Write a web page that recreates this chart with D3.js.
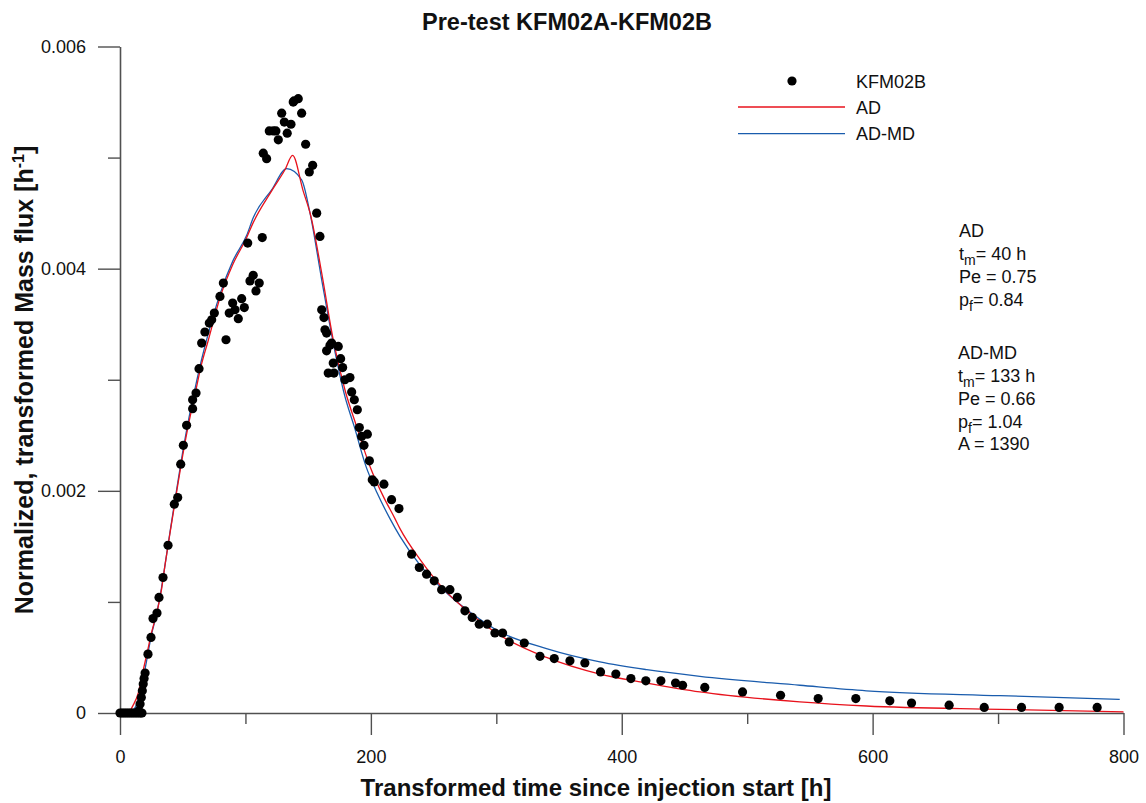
<!DOCTYPE html>
<html><head><meta charset="utf-8">
<script src="https://cdn.jsdelivr.net/npm/d3@7"></script>
<style>body{margin:0;background:#fff} text{font-family:"Liberation Sans",Arial,sans-serif;fill:#111}</style>
</head><body><svg id="c" width="1146" height="803"></svg>
<script>
// ---- data ----
const obsTime = [0,1.5,3,4.5,6,7.5,9,10.5,12,13.5,15,16.5,17.5,
 15,16,17,17.8,18.5,19.2,20,
 22.3,24.7,26.3,29.5,31.1,34.3,38.3,43.3,46,48.4,50.5,53.1,57.9,57.9,60.6,63,65.1,67.7,71.2,73.1,75.2,79.7,82.4,84.5,87.1,89.8,91.7,94.3,97,99.1,
 101.8,103.6,106.2,108.4,111,113.4,114.2,116.9,119,122.2,124.3,126.2,128.9,131,133.3,136.3,138.1,138.7,142.1,144.8,148,150.9,153.6,156.8,159.4,
 160.8,162.6,163.4,164.7,164.7,166,167.4,168.7,170,170.6,174,175.9,177.5,179.3,183.3,184.7,186.8,189.2,190.8,192.6,194.5,197.2,198.8,
 201.1,202.7,210.4,216.5,222.4,232.5,238.6,244.4,250.5,256.4,263,268.9,275,280.8,286.4,292.8,298.9,305,310.3,322.3,334.8,346.2,358.7,370.6,383.1,395.3,
 407.3,419.2,431.2,442.9,448.5,466.2,496.3,526.6,556.6,586.6,613.7,631,661,689,718.7,748.7,779];
const obsFlux = [0,0,0,0,0,0,0,0,0,0,0,0,0,
 0.00002,0.00008,0.00014,0.0002,0.00026,0.00031,0.00036,
 0.00053,0.00068,0.00085,0.0009,0.00104,0.00122,0.00151,0.00188,0.00194,0.00224,0.00241,0.00259,0.00274,0.00282,0.00288,0.0031,0.00333,0.00343,0.00351,0.00354,0.0036,0.00375,0.00387,0.00336,0.0036,0.00369,0.00363,0.00355,0.00373,0.00365,
 0.00423,0.00389,0.00394,0.0038,0.00387,0.00428,0.00504,0.00499,0.00524,0.00524,0.00524,0.00516,0.0054,0.00532,0.00522,0.0053,0.0055,0.00551,0.00553,0.0054,0.00512,0.00487,0.00493,0.0045,0.00429,
 0.00363,0.00356,0.00345,0.00342,0.00326,0.00306,0.00331,0.00333,0.00315,0.00306,0.0033,0.00319,0.00311,0.003,0.00302,0.00289,0.00282,0.00273,0.00257,0.00249,0.00241,0.00251,0.00227,
 0.0021,0.00208,0.00206,0.00192,0.00184,0.00143,0.00131,0.00125,0.00119,0.00111,0.00111,0.00104,0.00092,0.00086,0.0008,0.0008,0.00072,0.00072,0.00064,0.00063,0.00051,0.00049,0.00047,0.00045,0.00037,0.00035,
 0.00031,0.00029,0.00029,0.00027,0.00025,0.00023,0.00019,0.00016,0.00013,0.00013,0.00011,0.00009,0.00007,0.00005,0.00005,0.00005,0.00005];

const adTime = [0,4,8,10,14.6,18,21.2,25.3,29.3,33.2,36,40,45,50,55,60,65,70,80,90,101,106,120.9,131.5,137.6,146,152,160.8,170,179.3,188.6,199.3,209.9,219.2,223.2,240,257.7,280,302.9,340,382.6,420,462.3,542,595,701.5,800];
const adFlux = [0,0,0.00002,0.00006,0.00018,0.00036,0.00052,0.00073,0.0009,0.00112,0.00134,0.00163,0.00198,0.00232,0.00262,0.00288,0.00314,0.00334,0.00375,0.00404,0.00428,0.00441,0.0047,0.00489,0.00502,0.0047,0.00448,0.00396,0.00336,0.00291,0.00258,0.00222,0.00195,0.00175,0.00166,0.00137,0.00112,0.00089,0.0007,0.0005,0.00035,0.00027,0.00019,0.0001,0.000063,0.000033,0.00001];

const admdTime = [0,6,10,14,18,21.2,25,29.3,33,36,40,45,50,55,60,65,70,80,90,101,106.3,120.9,132.9,144.8,151.5,160.8,170,179.3,186.7,196.1,205,215.2,223.2,240,257.7,280,302.9,340,382.6,420,462.3,542,595,701.5,797];
const admdFlux = [0,0,0.00002,0.0001,0.00028,0.00047,0.0007,0.0009,0.00112,0.00134,0.00164,0.002,0.00235,0.00266,0.00293,0.00318,0.0034,0.00378,0.00407,0.0043,0.00446,0.00471,0.0049,0.0048,0.0045,0.0039,0.00333,0.00285,0.00258,0.00222,0.00198,0.00175,0.00159,0.00132,0.00111,0.0009,0.00073,0.00058,0.00046,0.00039,0.00033,0.00025,0.0002,0.000156,0.000123];

const xMajorTicks = [0,200,400,600,800];
const xMinorTicks = [100,300,500,700];
const yMajorTicks = [0,0.002,0.004,0.006];
const yMinorTicks = [0.001,0.003,0.005];

const seriesNames = ["KFM02B","AD","AD-MD"];
const seriesColors = ["#000000","#e8121c","#1a5cad"];

// ---- drawing ----
const svg = d3.select("#c");
const x = d3.scaleLinear().domain([0,800]).range([120,1123.5]);
const y = d3.scaleLinear().domain([0,0.006]).range([713,46.5]);
const axisColor = "#505050";

function styleAxis(g){
  g.select(".domain").attr("stroke",axisColor).attr("stroke-width",1.6);
  g.selectAll(".tick line").attr("stroke",axisColor).attr("stroke-width",1.4);
  g.selectAll(".tick text").attr("font-size",18).attr("fill","#111")
    .attr("font-family","'Liberation Sans',Arial,sans-serif");
}
// x axis
const gx = svg.append("g").attr("transform","translate(0,713)")
  .call(d3.axisBottom(x).tickValues(xMajorTicks).tickSize(22).tickSizeOuter(0).tickPadding(15).tickFormat(d3.format("d")));
styleAxis(gx);
const gx2 = svg.append("g").attr("transform","translate(0,713)")
  .call(d3.axisBottom(x).tickValues(xMinorTicks).tickSize(11).tickSizeOuter(0).tickFormat(""));
styleAxis(gx2); gx2.select(".domain").remove();
// y axis
const gy = svg.append("g").attr("transform","translate(120,0)")
  .call(d3.axisLeft(y).tickValues(yMajorTicks).tickSize(22).tickSizeOuter(0).tickPadding(12)
    .tickFormat(d => d===0 ? "0" : d3.format(".3f")(d)));
styleAxis(gy);
const gy2 = svg.append("g").attr("transform","translate(120,0)")
  .call(d3.axisLeft(y).tickValues(yMinorTicks).tickSize(12).tickSizeOuter(0).tickFormat(""));
styleAxis(gy2); gy2.select(".domain").remove();

// curves
const line = d3.line().x(d=>x(d[0])).y(d=>y(d[1])).curve(d3.curveMonotoneX);
svg.append("path").datum(d3.zip(admdTime,admdFlux)).attr("d",line)
  .attr("fill","none").attr("stroke",seriesColors[2]).attr("stroke-width",1.3);
svg.append("path").datum(d3.zip(adTime,adFlux)).attr("d",line)
  .attr("fill","none").attr("stroke",seriesColors[1]).attr("stroke-width",1.3);

// observations
svg.append("g").selectAll("circle").data(d3.zip(obsTime,obsFlux)).join("circle")
  .attr("cx",d=>x(d[0])).attr("cy",d=>y(d[1])).attr("r",4.6).attr("fill","#000");

// title & axis labels
svg.append("text").attr("x",567).attr("y",30).attr("text-anchor","middle")
  .attr("font-size",23.5).attr("font-weight","bold").text("Pre-test KFM02A-KFM02B");
svg.append("text").attr("x",596).attr("y",796).attr("text-anchor","middle")
  .attr("font-size",24).attr("font-weight","bold").text("Transformed time since injection start [h]");
const yl = svg.append("text").attr("transform","translate(33,380) rotate(-90)").attr("text-anchor","middle")
  .attr("font-size",25).attr("font-weight","bold");
yl.append("tspan").text("Normalized, transformed Mass flux [h");
yl.append("tspan").attr("dy",-9).attr("font-size",16).text("-1");
yl.append("tspan").attr("dy",9).text("]");

// legend
const lg = svg.append("g");
lg.append("circle").attr("cx",792).attr("cy",81).attr("r",4.6).attr("fill","#000");
lg.append("line").attr("x1",738).attr("x2",845).attr("y1",107).attr("y2",107).attr("stroke",seriesColors[1]).attr("stroke-width",1.3);
lg.append("line").attr("x1",738).attr("x2",845).attr("y1",133.7).attr("y2",133.7).attr("stroke",seriesColors[2]).attr("stroke-width",1.3);
[88,114,140].forEach((by,i)=>{
  lg.append("text").attr("x",856).attr("y",by).attr("font-size",18).text(seriesNames[i]);
});

// parameter annotations
function ann(xp, yp, parts){
  const t = svg.append("text").attr("x",xp).attr("y",yp).attr("font-size",18);
  parts.forEach(p=>{
    if(p.sub){ t.append("tspan").attr("dy",5).attr("font-size",14).text(p.sub); }
    else { t.append("tspan").attr("dy",p.back?-5:0).text(p.t); }
  });
}
ann(959,237,[{t:"AD"}]);
ann(959,260,[{t:"t"},{sub:"m"},{t:"= 40 h",back:true}]);
ann(959,283,[{t:"Pe = 0.75"}]);
ann(959,306,[{t:"p"},{sub:"f"},{t:"= 0.84",back:true}]);
ann(958,359,[{t:"AD-MD"}]);
ann(958,382,[{t:"t"},{sub:"m"},{t:"= 133 h",back:true}]);
ann(958,405,[{t:"Pe = 0.66"}]);
ann(958,428,[{t:"p"},{sub:"f"},{t:"= 1.04",back:true}]);
ann(958,450,[{t:"A = 1390"}]);
</script></body></html>
